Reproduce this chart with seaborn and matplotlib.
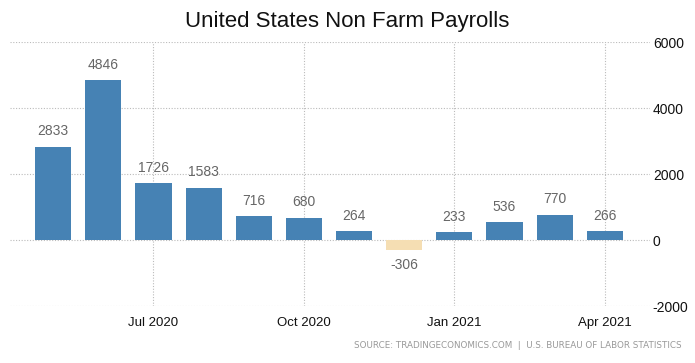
import matplotlib
matplotlib.use("Agg")
import matplotlib.pyplot as plt
import seaborn as sns
import pandas as pd

# Monthly change in non farm payrolls (thousands)
months = ["May 2020", "Jun 2020", "Jul 2020", "Aug 2020", "Sep 2020", "Oct 2020",
          "Nov 2020", "Dec 2020", "Jan 2021", "Feb 2021", "Mar 2021", "Apr 2021"]
payrolls = [2833, 4846, 1726, 1583, 716, 680, 264, -306, 233, 536, 770, 266]
tick_months = ["Jul 2020", "Oct 2020", "Jan 2021", "Apr 2021"]

df = pd.DataFrame({"Month": months, "Payrolls": payrolls})
colors = ["#4682B4" if v >= 0 else "#F5DEB3" for v in payrolls]

sns.set_style("white")
plt.rcParams["font.family"] = ["Liberation Sans", "DejaVu Sans"]
plt.rcParams["axes.unicode_minus"] = False

fig = plt.figure(figsize=(6.95, 3.63), dpi=100)
ax = fig.add_axes([10 / 695, 1 - 306 / 363, 640 / 695, 264 / 363])

sns.barplot(data=df, x="Month", y="Payrolls", hue="Month", palette=colors,
            legend=False, width=0.72, saturation=1, linewidth=0, ax=ax)

for container, v in zip(ax.containers, payrolls):
    ax.bar_label(container, labels=[str(v)], padding=6, fontsize=10, color="#666666")

ax.set_ylim(-2000, 6000)
ax.set_xlim(-0.86, 11.9)
ax.set_yticks([-2000, 0, 2000, 4000, 6000])
ax.yaxis.tick_right()
ax.tick_params(axis="y", length=0, pad=2, labelsize=10, labelcolor="#111111")

tick_pos = [months.index(m) for m in tick_months]
ax.set_xticks(tick_pos)
ax.set_xticklabels(tick_months)
ax.tick_params(axis="x", length=0, pad=8, labelsize=9.5, labelcolor="#111111")

ax.grid(True, linestyle=(0, (1, 1.5)), color="#bbbbbb", linewidth=0.8)
ax.set_axisbelow(True)
for s in ax.spines.values():
    s.set_visible(False)
ax.set_xlabel("")
ax.set_ylabel("")

fig.text(0.5, 1 - 22 / 363, "United States Non Farm Payrolls", ha="center",
         va="center", fontsize=16, color="#111111")
fig.text(682 / 695, 1 - 346 / 363,
         "SOURCE: TRADINGECONOMICS.COM  |  U.S. BUREAU OF LABOR STATISTICS",
         ha="right", va="center", fontsize=6.3, color="#999999",
         family="DejaVu Sans")

fig.savefig("out.png", dpi=100)
